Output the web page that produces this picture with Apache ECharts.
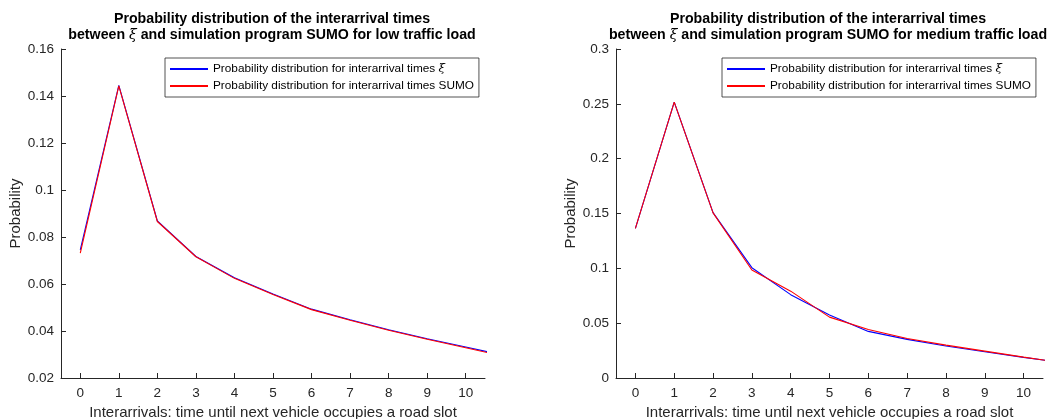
<!DOCTYPE html>
<html><head><meta charset="utf-8">
<script src="https://cdn.jsdelivr.net/npm/echarts@6/dist/echarts.min.js"></script>
<style>html,body{margin:0;padding:0;background:#fff}#c{width:1057px;height:419px}</style>
</head><body><div id="c"></div>
<script>
const xs = [0,1,2,3,4,5,6,7,8,9,10,11];
const xTicks = [0,1,2,3,4,5,6,7,8,9,10];
const lowXi   = [0.0745,0.1445,0.0868,0.0717,0.0627,0.0557,0.0493,0.0448,0.0405,0.0367,0.0332,0.0296];
const lowSumo = [0.0731,0.1443,0.0866,0.0716,0.0624,0.0555,0.0491,0.0446,0.0403,0.0365,0.0329,0.0292];
const medXi   = [0.1365,0.2515,0.1508,0.1006,0.0760,0.0575,0.0425,0.0352,0.0292,0.0240,0.0188,0.0140];
const medSumo = [0.1365,0.2515,0.1506,0.0985,0.0792,0.0555,0.0443,0.0360,0.0300,0.0245,0.0190,0.0138];
const nameXi = 'Probability distribution for interarrival times ξ';
const nameSumo = 'Probability distribution for interarrival times SUMO';
const titleLow = 'Probability distribution of the interarrival times\nbetween {i|ξ} and simulation program SUMO for low traffic load';
const titleMed = 'Probability distribution of the interarrival times\nbetween {i|ξ} and simulation program SUMO for medium traffic load';
const xName = 'Interarrivals: time until next vehicle occupies a road slot';
const yName = 'Probability';

const FONT = 'Liberation Sans, Arial, sans-serif';
const AX = '#262626';
const pairs = (ys) => xs.map((x,i)=>[x, ys[i]]);

function xAxis(gi){
  return {type:'value', gridIndex:gi, min:-0.5, max:10.5,
    name:xName, nameLocation:'middle', nameGap:25,
    nameTextStyle:{fontFamily:FONT, fontSize:15, color:AX},
    axisLine:{show:true, onZero:false, lineStyle:{color:AX, width:1}},
    axisTick:{show:true, inside:true, length:5, customValues:xTicks, lineStyle:{color:AX}},
    axisLabel:{show:true, customValues:xTicks, fontFamily:FONT, fontSize:13.5, color:AX, margin:8},
    splitLine:{show:false}};
}
function yAxis(gi, min, max, interval){
  return {type:'value', gridIndex:gi, min:min, max:max, interval:interval,
    name:yName, nameLocation:'middle', nameGap:36,
    nameTextStyle:{fontFamily:FONT, fontSize:15, color:AX},
    axisLine:{show:true, onZero:false, lineStyle:{color:AX, width:1}},
    axisTick:{show:true, inside:true, length:5, lineStyle:{color:AX}},
    axisLabel:{fontFamily:FONT, fontSize:13.5, color:AX, margin:7},
    splitLine:{show:false}};
}
function line(name, ys, gi, color){
  return {type:'line', name:name, xAxisIndex:gi, yAxisIndex:gi, data:pairs(ys),
    symbol:'none', clip:true, lineStyle:{color:color, width:1.1}, itemStyle:{color:color}, animation:false};
}
function legend(left){
  return {left:left, top:58, orient:'vertical', itemGap:5, itemWidth:38, itemHeight:2,
    icon:'rect', padding:[5,5,5,5], borderColor:AX, borderWidth:0.8, backgroundColor:'#fff',
    data:[nameXi, nameSumo], selectedMode:false,
    textStyle:{fontFamily:FONT, fontSize:11.8, color:'#000', rich:{i:{fontFamily:'DejaVu Serif, serif', fontStyle:'italic', fontSize:11.8}}},
    formatter:(n)=>n.replace('ξ','{i|ξ}')};
}
function title(text, cx){
  return {text:text, left:cx, top:6, textAlign:'center',
    textStyle:{fontFamily:FONT, fontSize:14.2, fontWeight:'bold', color:'#000', lineHeight:16,
      rich:{i:{fontFamily:'DejaVu Serif, serif', fontStyle:'italic', fontWeight:'normal', fontSize:14, lineHeight:16}}}};
}

const chart = echarts.init(document.getElementById('c'), null, {renderer:'canvas'});
chart.setOption({
  animation:false,
  title:[title(titleLow, 267), title(titleMed, 823)],
  legend:[legend(165), legend(722)],
  grid:[{left:61, top:49, width:424, height:329, outerBoundsMode:'none', containLabel:false},
        {left:616, top:49, width:427, height:329, outerBoundsMode:'none', containLabel:false}],
  xAxis:[xAxis(0), xAxis(1)],
  yAxis:[yAxis(0, 0.02, 0.16, 0.02), yAxis(1, 0, 0.3, 0.05)],
  series:[
    line(nameXi, lowXi, 0, '#0000ff'),
    line(nameSumo, lowSumo, 0, '#ff0000'),
    line(nameXi, medXi, 1, '#0000ff'),
    line(nameSumo, medSumo, 1, '#ff0000')
  ]
});
</script></body></html>
